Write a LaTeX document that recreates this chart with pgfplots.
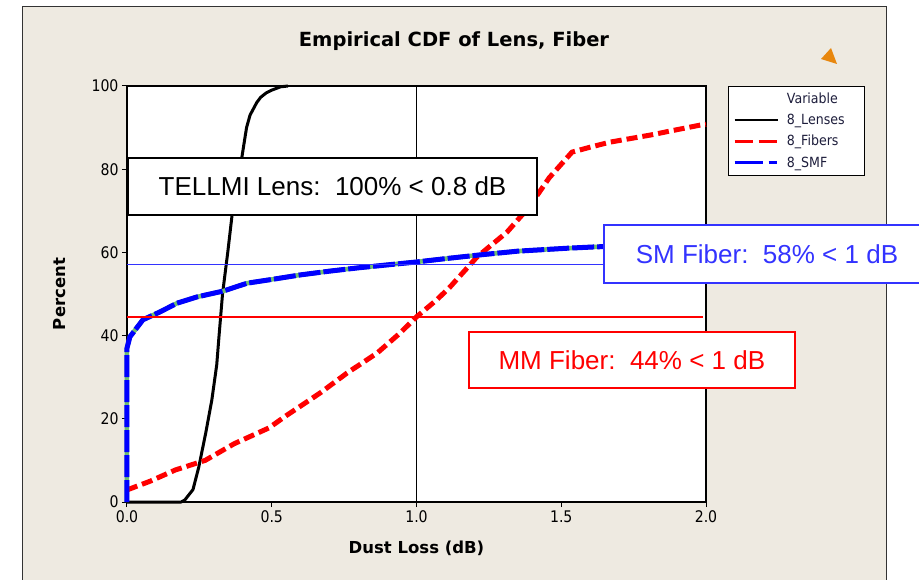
\documentclass[border=0pt]{standalone}
\usepackage{pgfplots}
\pgfplotsset{compat=1.18}
\usepackage{fontspec}
\setmainfont{Liberation Sans}
\newfontfamily\dvfont{DejaVu Sans}
\newfontfamily\tickfont[FakeStretch=0.88]{DejaVu Sans}
\newfontfamily\legfont[FakeStretch=0.9]{DejaVu Sans}
\definecolor{panel}{RGB}{238,234,225}
\definecolor{smblue}{RGB}{51,51,255}
\definecolor{mmred}{RGB}{255,0,0}
\definecolor{tri}{RGB}{232,135,14}
\definecolor{specgreen}{RGB}{110,190,110}
\definecolor{legtext}{RGB}{30,30,60}
\begin{document}
\begin{tikzpicture}[x=1pt,y=1pt]
\useasboundingbox (-127,-77) rectangle (792,502);
\fill[white] (-127,-77) rectangle (792,502);
\filldraw[fill=panel,draw=black!80,line width=1pt] (-104,495) rectangle (759,-110);
\fill[tri] (694,443) -- (704,454) -- (710,438) -- cycle;
\begin{axis}[
  at={(0,0)}, anchor=south west,
  scale only axis, width=579pt, height=416pt,
  xmin=0, xmax=2, ymin=0, ymax=100,
  clip=false,
  axis background/.style={fill=white},
  axis line style={line width=1.2pt, black},
  tick align=outside, tick pos=left,
  major tick length=5pt,
  every tick/.style={black, line width=1pt},
  xtick={0,0.5,1,1.5,2}, ytick={0,20,40,60,80,100},
  xticklabel style={/pgf/number format/.cd, fixed, fixed zerofill, precision=1},
  /pgf/number format/assume math mode=true,
  tick label style={font=\tickfont\fontsize{16}{18}\selectfont, black},
  title={\dvfont\bfseries Empirical CDF of Lens, Fiber},
  title style={at={(axis description cs:0.5648,1.0938)}, anchor=center, font=\fontsize{19.5}{22}\selectfont},
  xlabel={\dvfont\bfseries Dust Loss (dB)},
  ylabel={\dvfont\bfseries Percent},
  xlabel style={at={(axis description cs:0.5,-0.1106)}, anchor=center, font=\fontsize{16.5}{19}\selectfont},
  ylabel style={at={(axis description cs:-0.1157,0.5)}, anchor=center, font=\fontsize{16.5}{19}\selectfont},
  legend image code/.code={\draw[#1] (0pt,0pt) -- (43pt,0pt);},
  legend style={at={(axis description cs:1,1)}, anchor=north west, xshift=22pt,
    draw=black, line width=0.8pt, fill=white,
    font=\legfont\fontsize{14}{17}\selectfont,
    nodes={inner xsep=2.5pt},
    inner xsep=4.5pt, inner ysep=4.5pt, row sep=5.2pt, column sep=5pt,
    cells={anchor=west}},
]
% reference lines
\addplot[forget plot, black, line width=1.6pt] coordinates {(1,0) (1,100)};
% Lenses
\addplot[forget plot, black, line width=3pt, line join=round] coordinates {
(0,0) (0.187,0) (0.2,0.5) (0.228,3) (0.248,8.4) (0.272,16.6) (0.293,24.5)
(0.31,33) (0.318,40) (0.33,50) (0.348,60) (0.363,69) (0.38,76) (0.396,82.5)
(0.405,86.5) (0.413,90) (0.425,93) (0.448,96) (0.462,97.3) (0.48,98.3)
(0.5,99) (0.53,99.8) (0.556,100)};
% Fibers
\addplot[forget plot, mmred, line width=5pt, dash pattern=on 11pt off 5pt] coordinates {
(0,2.9) (0.08,5) (0.167,7.7) (0.27,10) (0.37,14) (0.49,17.8) (0.553,20.9)
(0.667,26.2) (0.76,31) (0.864,35.8) (0.943,40.6) (1.0,44.5) (1.07,48.6)
(1.116,51.7) (1.209,58.9) (1.313,64.9) (1.39,71) (1.458,77.9) (1.537,84.1)
(1.6,85.3) (1.668,86.5) (1.807,88.2) (1.9,89.5) (1.98,90.6) (2.0,90.8)};
% SMF
\addplot[forget plot, specgreen, line width=4.5pt] coordinates {
(0,0) (0,37) (0.01,39.7) (0.055,43.8) (0.114,45.7) (0.173,47.8) (0.242,49.3)
(0.332,50.7) (0.415,52.6) (0.5,53.5) (0.6,54.6) (0.7,55.5) (0.8,56.3) (0.9,57)
(1.0,57.7) (1.1,58.5) (1.219,59.4) (1.35,60.3) (1.52,61) (1.61,61.3) (1.8,61.8) (2.0,62.3)};
\addplot[forget plot, blue, line width=5pt, dash pattern=on 22pt off 3pt] coordinates {
(0,0) (0,37) (0.01,39.7) (0.055,43.8) (0.114,45.7) (0.173,47.8) (0.242,49.3)
(0.332,50.7) (0.415,52.6) (0.5,53.5) (0.6,54.6) (0.7,55.5) (0.8,56.3) (0.9,57)
(1.0,57.7) (1.1,58.5) (1.219,59.4) (1.35,60.3) (1.52,61) (1.61,61.3) (1.8,61.8) (2.0,62.3)};
\addplot[forget plot, smblue, line width=1.3pt] coordinates {(0,57.1) (2,57.1)};
\addplot[forget plot, mmred, line width=1.3pt] coordinates {(0,44.5) (1.99,44.5)};
% legend
\addlegendimage{empty legend}
\addlegendentry{\color{legtext}\makebox[70pt][l]{Variable}}
\addlegendimage{black, line width=2.2pt}
\addlegendentry{\color{legtext}\makebox[70pt][l]{8\_Lenses}}
\addlegendimage{mmred, line width=3.5pt, dash pattern=on 18pt off 6pt}
\addlegendentry{\color{legtext}\makebox[70pt][l]{8\_Fibers}}
\addlegendimage{blue, line width=3.5pt, dash pattern=on 28pt off 6pt on 8pt off 10pt}
\addlegendentry{\color{legtext}\makebox[70pt][l]{8\_SMF}}
% annotation boxes
\node[draw=black, line width=1.4pt, fill=white, minimum width=409pt, minimum height=57pt,
  inner sep=0pt, font=\fontsize{26}{30}\selectfont] at (axis cs:0.710,75.84)
  {TELLMI Lens:\ \ 100\% < 0.8 dB};
\node[draw=smblue, line width=1.4pt, fill=white, minimum width=326pt, minimum height=58pt,
  inner sep=0pt, text=smblue, font=\fontsize{26}{30}\selectfont] at (axis cs:2.2107,59.6)
  {SM Fiber:\ \ 58\% < 1 dB};
\node[draw=mmred, line width=1.4pt, fill=white, minimum width=326pt, minimum height=56pt,
  inner sep=0pt, text=mmred, font=\fontsize{26}{30}\selectfont] at (axis cs:1.744,34.13)
  {MM Fiber:\ \ 44\% < 1 dB};
\end{axis}
\end{tikzpicture}
\end{document}
